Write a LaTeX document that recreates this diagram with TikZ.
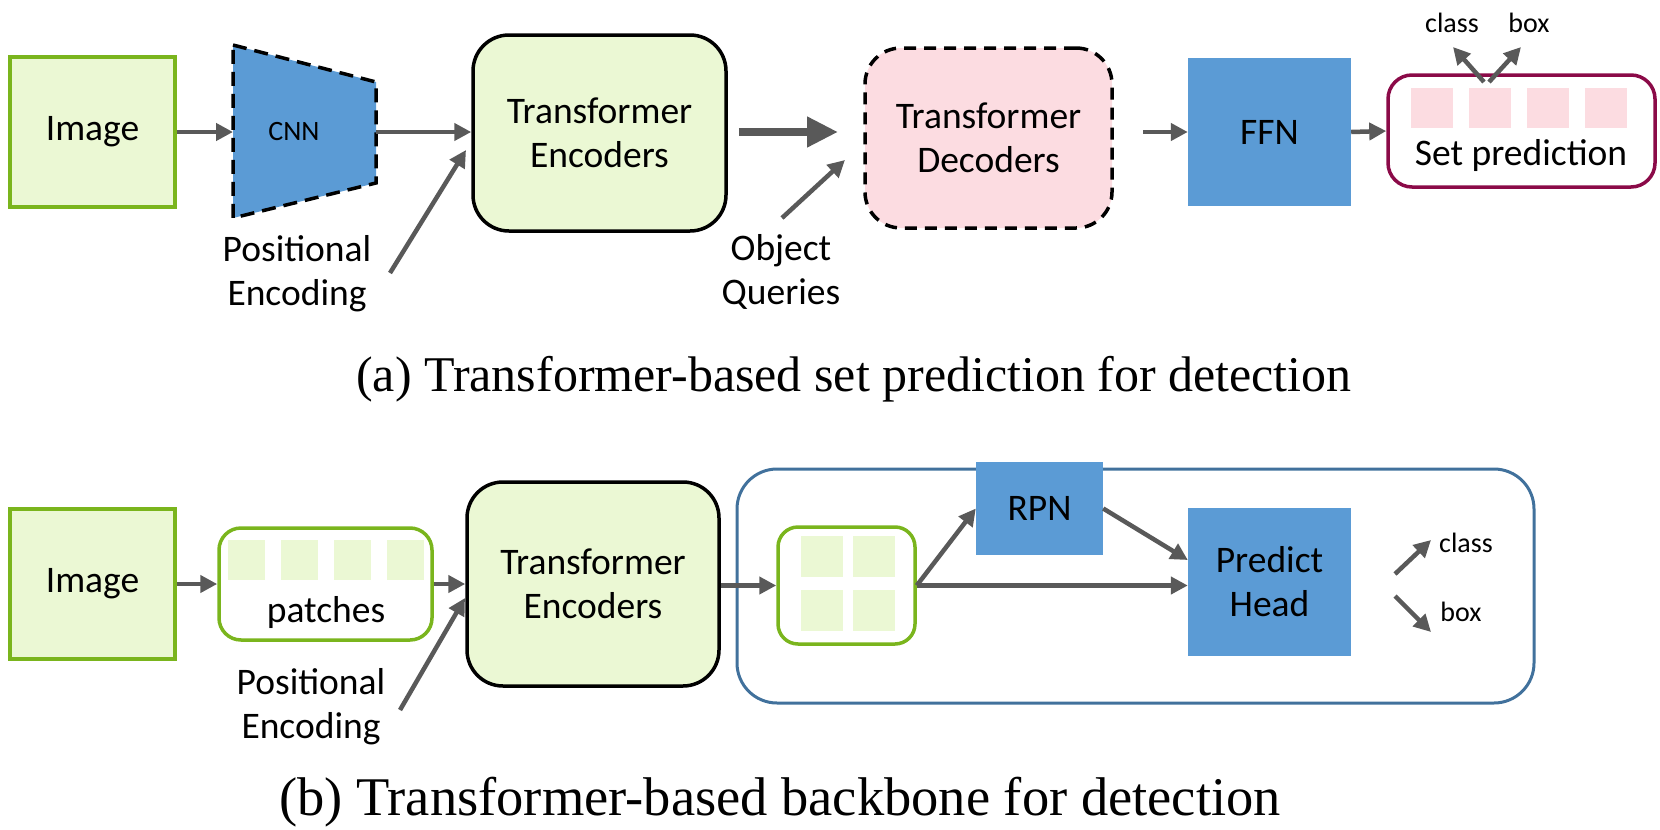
\documentclass[tikz,border=0pt]{standalone}
\usepackage{fontspec}
\setmainfont{Carlito}
\newfontfamily\capfont{Liberation Serif}
\usetikzlibrary{arrows.meta}
\definecolor{lgreen}{RGB}{235,248,212}
\definecolor{dgreen}{RGB}{122,181,29}
\definecolor{bblue}{RGB}{91,155,213}
\definecolor{pinkf}{RGB}{252,220,225}
\definecolor{arrg}{RGB}{89,89,89}
\definecolor{magb}{RGB}{139,10,72}
\definecolor{steel}{RGB}{65,113,156}
\begin{document}
\begin{tikzpicture}[x=1pt,y=-1pt,
  lbl/.style={font=\fontsize{37.5}{44}\selectfont, align=center},
  small/.style={font=\fontsize{28}{33}\selectfont},
  captxt/.style={font=\capfont\fontsize{#1}{60}\selectfont, anchor=base},
  sbox/.style={rectangle, inner sep=0pt, minimum width=#1},
  imgbox/.style={sbox=165pt, minimum height=150pt, draw=dgreen, fill=lgreen, line width=3.5pt},
  encbox/.style={rectangle, inner sep=0pt, draw=black, fill=lgreen, line width=3.5pt, rounded corners=36pt},
  bluebox/.style={rectangle, inner sep=0pt, fill=bblue},
  sq/.style={rectangle, inner sep=0pt, minimum width=#1},
  arr/.style={draw=arrg, line width=4.5pt, -{Triangle[length=17pt,width=17pt]}},
  bigarr/.style={draw=arrg, line width=7.5pt, -{Triangle[length=31pt,width=29pt]}},
]
\useasboundingbox (0,0) rectangle (1660,830);

% ---------- (a) ----------
\node[imgbox, lbl] (imgA) at (92.5,132) {Image};
\coordinate (cnnW) at (233,132);
\coordinate (cnnE) at (376,132);
\fill[bblue] (233,45) -- (376,82) -- (376,183) -- (233,218) -- cycle;
\draw[black, line width=3.5pt, dash pattern=on 14pt off 8pt] (233,45) -- (376,82) -- (376,183) -- (233,218) -- cycle;
\node[small] (cnn) at (294,132) {CNN};
\node[encbox, lbl, minimum width=253pt, minimum height=196pt] (encA) at (599.5,133) {Transformer\\Encoders};
\node[lbl] (posA) at (297,274) {Positional\\Encoding};
\coordinate (posAs) at (390,273);
\coordinate (posAe) at (466,150);

\draw[arr] (imgA.east) -- (cnnW);
\draw[arr] (cnnE) -- (encA.west |- cnnE);
\draw[arr] (posAs) -- (posAe);

\coordinate (thickE) at (838,132);
\draw[bigarr, shorten <=11pt] (encA.east |- thickE) -- (thickE);

\node[lbl] (oq) at (781,272) {Object\\Queries};
\coordinate (oqS) at (782,218);
\coordinate (oqE) at (845,160);
\draw[arr] (oqS) -- (oqE);

\node[rectangle, inner sep=0pt, draw=black, fill=pinkf, line width=3.5pt, rounded corners=36pt,
      dash pattern=on 12pt off 8pt, minimum width=247pt, minimum height=180pt, lbl] (dec) at (988.5,138) {Transformer\\Decoders};

\node[bluebox, lbl, minimum width=163pt, minimum height=148pt] (ffn) at (1269.5,132) {FFN};
\coordinate (decOut) at (1143,132);
\draw[arr] (decOut) -- (ffn.west);

\node[rectangle, inner sep=0pt, draw=magb, line width=3.5pt, rounded corners=24pt,
      minimum width=267pt, minimum height=112pt] (setp) at (1521.5,131) {};
\draw[arr] (ffn.east) -- (setp.west);
\foreach \i/\x in {1/1432,2/1490,3/1548,4/1606}
  \node[sq=42pt, minimum height=40pt, fill=pinkf] (sp\i) at (\x,108) {};
\node[lbl] (settxt) at (1521,155) {Set prediction};
\node[small] (clsA) at (1452,23) {class};
\node[small] (boxA) at (1529,23) {box};
\coordinate (cbS1) at (1484,82);
\coordinate (cbS2) at (1489,82);
\coordinate (cbE1) at (1453,47);
\coordinate (cbE2) at (1521,47);
\draw[arr] (cbS1) -- (cbE1);
\draw[arr] (cbS2) -- (cbE2);

\node[captxt=50] (capA) at (854,391) {(a) Transformer-based set prediction for detection};

% ---------- (b) ----------
\node[imgbox, lbl] (imgB) at (92.5,584) {Image};
\node[rectangle, inner sep=0pt, draw=dgreen, fill=white, line width=3.5pt, rounded corners=22pt,
      minimum width=213pt, minimum height=112pt] (patches) at (325.5,584) {};
\foreach \i/\x in {1/246.5,2/299.5,3/352.5,4/405.5}
  \node[sq=37pt, minimum height=40pt, fill=lgreen] (pt\i) at (\x,560) {};
\node[lbl] (patchtxt) at (326,612) {patches};
\draw[arr] (imgB.east) -- (patches.west);

\node[encbox, lbl, minimum width=252pt, minimum height=204pt] (encB) at (593,584) {Transformer\\Encoders};
\draw[arr] (patches.east) -- (encB.west |- patches.east);
\node[lbl] (posB) at (311,707) {Positional\\Encoding};
\coordinate (posBs) at (400,710);
\coordinate (posBe) at (465,598);
\draw[arr] (posBs) -- (posBe);

\node[rectangle, inner sep=0pt, draw=steel, line width=3pt, rounded corners=40pt,
      minimum width=797pt, minimum height=234pt] (cont) at (1135.5,586) {};

\node[rectangle, inner sep=0pt, draw=dgreen, fill=white, line width=3.5pt, rounded corners=20pt,
      minimum width=137pt, minimum height=117pt] (grid) at (846.5,585.5) {};
\foreach \i/\x/\y in {1/822/556,2/874/556,3/822/610,4/874/610}
  \node[sq=42pt, minimum height=41pt, fill=lgreen] (g\i) at (\x,\y) {};
\draw[arr] (encB.east |- grid.west) -- (grid.west);

\node[bluebox, lbl, minimum width=127pt, minimum height=93pt] (rpn) at (1039.5,508.5) {RPN};
\node[bluebox, lbl, minimum width=163pt, minimum height=148pt] (pred) at (1269.5,582) {Predict\\Head};
\draw[arr] (grid.east) -- (rpn.west);
\draw[arr] (rpn.east) -- (pred.west |- 0,560);
\draw[arr] (grid.east) -- (pred.west |- grid.east);

\coordinate (clS) at (1395,574);
\coordinate (clE) at (1431,540);
\coordinate (bxS) at (1395,596);
\coordinate (bxE) at (1431,632);
\draw[arr] (clS) -- (clE);
\draw[arr] (bxS) -- (bxE);
\node[small] (clsB) at (1466,543) {class};
\node[small] (boxB) at (1461,612) {box};

\node[captxt=54.5] (capB) at (780,815) {(b) Transformer-based backbone for detection};
\end{tikzpicture}
\end{document}
